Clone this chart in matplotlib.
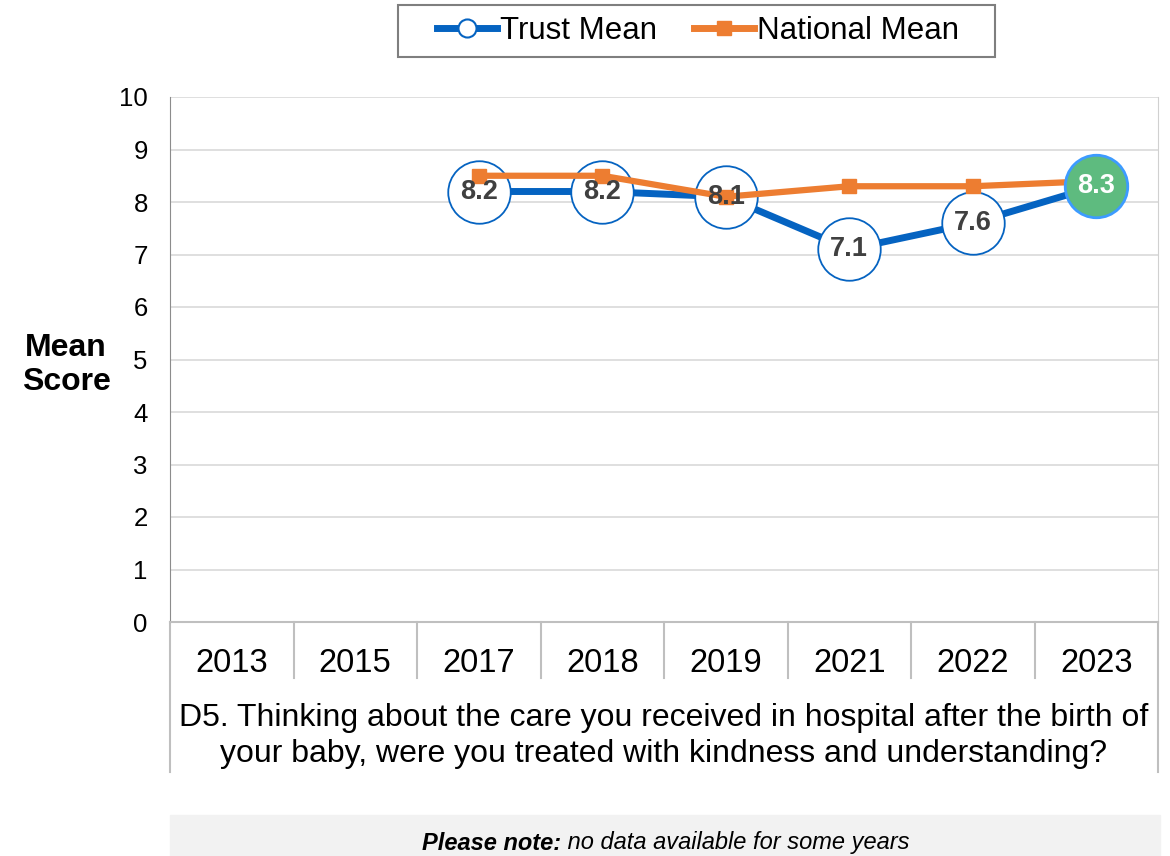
import numpy as np
import matplotlib.pyplot as plt
from matplotlib.lines import Line2D
from matplotlib.transforms import blended_transform_factory
from matplotlib.patches import Rectangle

plt.rcParams['font.family'] = ['Liberation Sans', 'DejaVu Sans']

years = ["2013", "2015", "2017", "2018", "2019", "2021", "2022", "2023"]
trust_mean = [np.nan, np.nan, 8.2, 8.2, 8.1, 7.1, 7.6, 8.3]
national_mean = [np.nan, np.nan, 8.5, 8.5, 8.1, 8.3, 8.3, 8.4]
question = ("D5. Thinking about the care you received in hospital after the birth of\n"
            "your baby, were you treated with kindness and understanding?")
note_bold = "Please note:"
note_rest = " no data available for some years"

blue = "#0563C1"
orange = "#ED7D31"
green = "#5EBB7F"
label_col = "#404040"

fig = plt.figure(figsize=(11.7, 8.56), dpi=100)
ax = fig.add_axes([170/1170, 1 - 622/856, (1158-170)/1170, 525/856])

x = np.arange(len(years))
trust = np.array(trust_mean)
nat = np.array(national_mean)

# trust line + circles
ax.plot(x, trust, color=blue, lw=5, zorder=2, solid_capstyle='round')
last = len(years) - 1
ax.plot(x[:last], trust[:last], ls='none', marker='o', ms=45, mfc='white',
        mec=blue, mew=1.3, zorder=3)
# national line
ax.plot(x, nat, color=orange, lw=4.5, marker='s', ms=10, zorder=4)
# latest point highlighted
ax.plot(x[last], trust[last], ls='none', marker='o', ms=45, mfc=green,
        mec="#3D9BFF", mew=2, zorder=5)

for i, v in enumerate(trust):
    if np.isnan(v):
        continue
    c = 'white' if i == last else label_col
    ax.text(x[i], v, f"{v:.1f}", ha='center', va='center', fontsize=19.5,
            fontweight='bold', color=c, zorder=6)

ax.set_xlim(-0.5, len(years) - 0.5)
ax.set_ylim(0, 10)
ax.set_yticks(range(0, 11))
ax.tick_params(axis='y', length=0, labelsize=18.5, pad=16)
ax.set_xticks(x)
ax.set_xticklabels(years)
ax.tick_params(axis='x', length=0, labelsize=23.5, pad=18.5)
ax.grid(axis='y', color="#D9D9D9", lw=1.2)
ax.set_axisbelow(True)
ax.spines['top'].set_visible(False)
ax.spines['left'].set_color("#8C8C8C")
ax.spines['right'].set_color("#D0D0D0")
ax.spines['bottom'].set_color("#BFBFBF")
ax.spines['bottom'].set_linewidth(1.5)

ax.set_ylabel("Mean\nScore", rotation=0, fontsize=23, fontweight='bold',
              labelpad=0, linespacing=1.17, va='center', ha='center')
ax.yaxis.set_label_coords((66-170)/988, (622-365)/525)

# category separators below the axis
tr = blended_transform_factory(ax.transData, ax.transAxes)
for k in range(1, len(years)):
    ax.plot([k - 0.5, k - 0.5], [0, -56/525], color="#BFBFBF", lw=1.5,
            transform=tr, clip_on=False)
for k in [-0.5, len(years) - 0.5]:
    ax.plot([k, k], [0, -150/525], color="#BFBFBF", lw=1.5,
            transform=tr, clip_on=False)

ax.text(0.5, -(736-622)/525, question, transform=ax.transAxes, ha='center',
        va='center', fontsize=23, linespacing=1.22)

# note box
fig.patches.append(Rectangle((170/1170, 0), (1160-170)/1170, 41/856,
                             transform=fig.transFigure, color="#F2F2F2", zorder=0))
t = fig.text(0, 13/856, note_bold, ha='left', va='center', fontsize=17,
             fontweight='bold', style='italic')
t2 = fig.text(0, 13/856, note_rest, ha='left', va='center', fontsize=17, style='italic')
fig.canvas.draw()
r = fig.canvas.get_renderer()
w_bold = t.get_window_extent(renderer=r).width
w_rest = t2.get_window_extent(renderer=r).width
start = 666 - (w_bold + w_rest) / 2
t.set_x(start / 1170)
t2.set_x((start + w_bold) / 1170)

# legend with its own frame
fig.patches.append(Rectangle((398/1170, 1 - 57/856), (995-398)/1170, 52/856,
                             transform=fig.transFigure, fill=False,
                             edgecolor="#7F7F7F", lw=1.5))
handles = [
    Line2D([], [], color=blue, lw=5, marker='o', ms=13, mfc='white', mec=blue, mew=1.5),
    Line2D([], [], color=orange, lw=5, marker='s', ms=10),
]
fig.legend(handles, ["Trust Mean", "National Mean"], loc='center',
           bbox_to_anchor=(698/1170, 1 - 31/856), ncol=2, fontsize=22.5,
           frameon=False, handlelength=1.9, handletextpad=0.1,
           columnspacing=1.2)

fig.savefig("out.png", dpi=100)
